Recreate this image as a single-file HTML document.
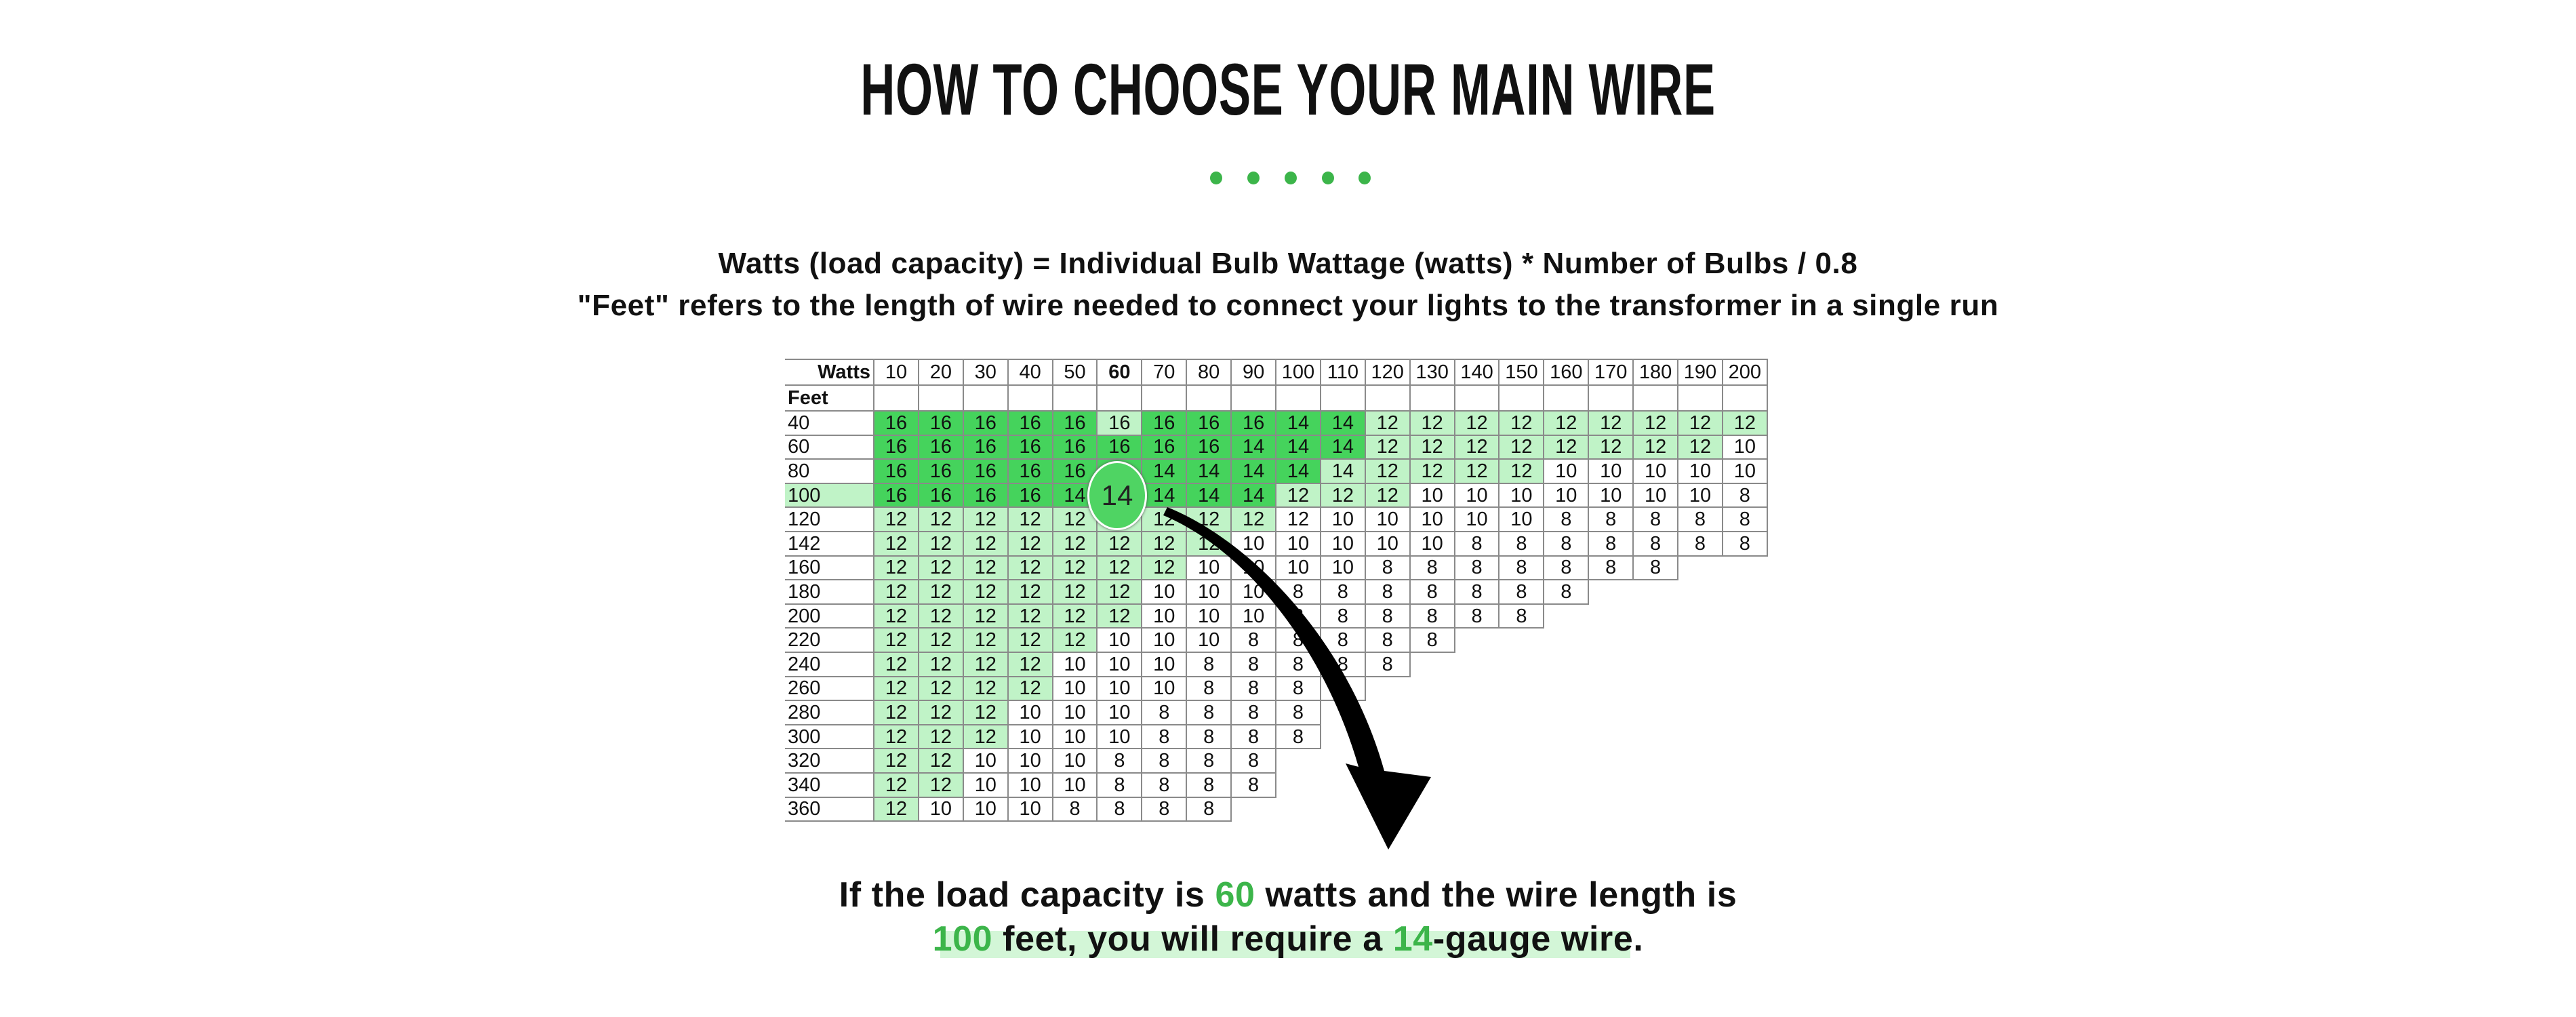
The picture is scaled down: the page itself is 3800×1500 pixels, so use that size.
<!DOCTYPE html>
<html><head><meta charset="utf-8"><style>
*{margin:0;padding:0;box-sizing:border-box}
body{width:3800px;height:1500px;background:#fff;position:relative;overflow:hidden;font-family:"Liberation Sans",Arial,sans-serif;color:#111}
.title{position:absolute;left:0;width:3800px;top:72px;text-align:center;font-weight:bold;font-size:108px;line-height:120px}
.title span{display:inline-block;transform:scaleX(0.655);letter-spacing:1px}
.dot{position:absolute;top:253px;width:18px;height:19px;border-radius:50%;background:#3cb54a}
.f{position:absolute;left:0;width:3800px;text-align:center;font-weight:bold;font-size:44px;letter-spacing:0.6px}
.b{position:absolute;left:0;width:3800px;text-align:center;font-weight:bold;font-size:52px;letter-spacing:0.6px}
.g{color:#3cb54a}
table{position:absolute;left:1158px;top:529px;width:1449px;border-collapse:collapse;table-layout:fixed;font-size:29px}
td{border:2px solid #8a8a8a;height:35.6px;text-align:center;padding:0;line-height:30px}
td:first-child{text-align:left;padding-left:4px;border-left:none}
tr.h td{height:38px;background:#fff}
.d{background:#45d35c}.l{background:#c0f3c7}
</style></head><body>
<div class="title"><span>HOW TO CHOOSE YOUR MAIN WIRE</span></div>
<div class="dot" style="left:1785px"></div><div class="dot" style="left:1840px"></div><div class="dot" style="left:1895px"></div><div class="dot" style="left:1950px"></div><div class="dot" style="left:2004px"></div>
<div class="f" style="top:364px">Watts (load capacity) = Individual Bulb Wattage (watts) * Number of Bulbs / 0.8</div>
<div class="f" style="top:426px">"Feet" refers to the length of wire needed to connect your lights to the transformer in a single run</div>
<table>
<colgroup><col style="width:131px"><col span="20" style="width:65.9px"></colgroup>
<tr class="h"><td style="text-align:right;padding-right:4px;font-weight:bold">Watts</td><td>10</td><td>20</td><td>30</td><td>40</td><td>50</td><td class="l" style="font-weight:bold">60</td><td>70</td><td>80</td><td>90</td><td>100</td><td>110</td><td>120</td><td>130</td><td>140</td><td>150</td><td>160</td><td>170</td><td>180</td><td>190</td><td>200</td></tr>
<tr class="h"><td style="font-weight:bold">Feet</td><td></td><td></td><td></td><td></td><td></td><td class="l"></td><td></td><td></td><td></td><td></td><td></td><td></td><td></td><td></td><td></td><td></td><td></td><td></td><td></td><td></td></tr>
<tr><td>40</td><td class="d">16</td><td class="d">16</td><td class="d">16</td><td class="d">16</td><td class="d">16</td><td class="l">16</td><td class="d">16</td><td class="d">16</td><td class="d">16</td><td class="d">14</td><td class="d">14</td><td class="l">12</td><td class="l">12</td><td class="l">12</td><td class="l">12</td><td class="l">12</td><td class="l">12</td><td class="l">12</td><td class="l">12</td><td class="l">12</td></tr>
<tr><td>60</td><td class="d">16</td><td class="d">16</td><td class="d">16</td><td class="d">16</td><td class="d">16</td><td class="d">16</td><td class="d">16</td><td class="d">16</td><td class="d">14</td><td class="d">14</td><td class="d">14</td><td class="l">12</td><td class="l">12</td><td class="l">12</td><td class="l">12</td><td class="l">12</td><td class="l">12</td><td class="l">12</td><td class="l">12</td><td>10</td></tr>
<tr><td>80</td><td class="d">16</td><td class="d">16</td><td class="d">16</td><td class="d">16</td><td class="d">16</td><td class="d"></td><td class="d">14</td><td class="d">14</td><td class="d">14</td><td class="d">14</td><td class="l">14</td><td class="l">12</td><td class="l">12</td><td class="l">12</td><td class="l">12</td><td>10</td><td>10</td><td>10</td><td>10</td><td>10</td></tr>
<tr><td class="l">100</td><td class="d">16</td><td class="d">16</td><td class="d">16</td><td class="d">16</td><td class="d">14</td><td class="d"></td><td class="d">14</td><td class="d">14</td><td class="d">14</td><td class="l">12</td><td class="l">12</td><td class="l">12</td><td>10</td><td>10</td><td>10</td><td>10</td><td>10</td><td>10</td><td>10</td><td>8</td></tr>
<tr><td>120</td><td class="l">12</td><td class="l">12</td><td class="l">12</td><td class="l">12</td><td class="l">12</td><td class="l"></td><td class="l">12</td><td class="l">12</td><td class="l">12</td><td>12</td><td>10</td><td>10</td><td>10</td><td>10</td><td>10</td><td>8</td><td>8</td><td>8</td><td>8</td><td>8</td></tr>
<tr><td>142</td><td class="l">12</td><td class="l">12</td><td class="l">12</td><td class="l">12</td><td class="l">12</td><td class="l">12</td><td class="l">12</td><td class="l">12</td><td>10</td><td>10</td><td>10</td><td>10</td><td>10</td><td>8</td><td>8</td><td>8</td><td>8</td><td>8</td><td>8</td><td>8</td></tr>
<tr><td>160</td><td class="l">12</td><td class="l">12</td><td class="l">12</td><td class="l">12</td><td class="l">12</td><td class="l">12</td><td class="l">12</td><td>10</td><td>10</td><td>10</td><td>10</td><td>8</td><td>8</td><td>8</td><td>8</td><td>8</td><td>8</td><td>8</td></tr>
<tr><td>180</td><td class="l">12</td><td class="l">12</td><td class="l">12</td><td class="l">12</td><td class="l">12</td><td class="l">12</td><td>10</td><td>10</td><td>10</td><td>8</td><td>8</td><td>8</td><td>8</td><td>8</td><td>8</td><td>8</td></tr>
<tr><td>200</td><td class="l">12</td><td class="l">12</td><td class="l">12</td><td class="l">12</td><td class="l">12</td><td class="l">12</td><td>10</td><td>10</td><td>10</td><td>8</td><td>8</td><td>8</td><td>8</td><td>8</td><td>8</td></tr>
<tr><td>220</td><td class="l">12</td><td class="l">12</td><td class="l">12</td><td class="l">12</td><td class="l">12</td><td>10</td><td>10</td><td>10</td><td>8</td><td>8</td><td>8</td><td>8</td><td>8</td></tr>
<tr><td>240</td><td class="l">12</td><td class="l">12</td><td class="l">12</td><td class="l">12</td><td>10</td><td>10</td><td>10</td><td>8</td><td>8</td><td>8</td><td>8</td><td>8</td></tr>
<tr><td>260</td><td class="l">12</td><td class="l">12</td><td class="l">12</td><td class="l">12</td><td>10</td><td>10</td><td>10</td><td>8</td><td>8</td><td>8</td><td>8</td></tr>
<tr><td>280</td><td class="l">12</td><td class="l">12</td><td class="l">12</td><td>10</td><td>10</td><td>10</td><td>8</td><td>8</td><td>8</td><td>8</td></tr>
<tr><td>300</td><td class="l">12</td><td class="l">12</td><td class="l">12</td><td>10</td><td>10</td><td>10</td><td>8</td><td>8</td><td>8</td><td>8</td></tr>
<tr><td>320</td><td class="l">12</td><td class="l">12</td><td>10</td><td>10</td><td>10</td><td>8</td><td>8</td><td>8</td><td>8</td></tr>
<tr><td>340</td><td class="l">12</td><td class="l">12</td><td>10</td><td>10</td><td>10</td><td>8</td><td>8</td><td>8</td><td>8</td></tr>
<tr><td>360</td><td class="l">12</td><td>10</td><td>10</td><td>10</td><td>8</td><td>8</td><td>8</td><td>8</td></tr>
</table>
<div style="position:absolute;left:1604px;top:680px;width:88px;height:102px;border-radius:50%;background:#4fd463;border:3px solid #fff;box-shadow:0 0 4px #555;text-align:center;font-size:42px;line-height:96px;color:#222">14</div>
<svg style="position:absolute;left:0;top:0" width="3800" height="1500">
<path d="M1722,748 C1850,800 1990,950 2042,1137 L2111,1146 L2048,1253 L1985,1126 L2004,1131 C1955,960 1840,812 1716,760 Z" fill="#000"/>
</svg>
<div style="position:absolute;left:1387px;top:1373px;width:1018px;height:40px;background:#d3f6d7"></div>
<div class="b" style="top:1290px">If the load capacity is <span class="g">60</span> watts and the wire length is</div>
<div class="b" style="top:1355px"><span class="g">100</span> feet, you will require a <span class="g">14</span>-gauge wire.</div>
</body></html>
